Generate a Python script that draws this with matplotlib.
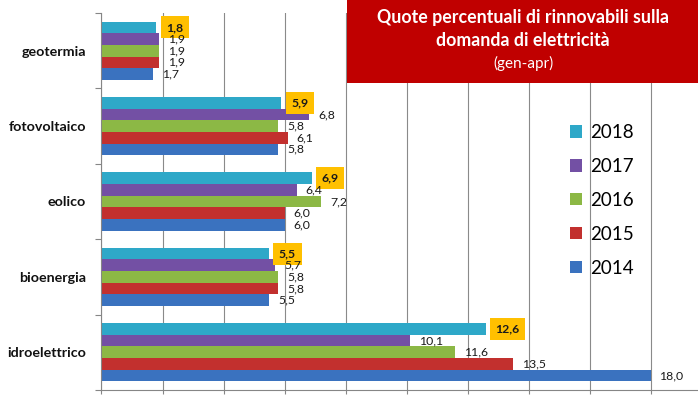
import matplotlib
matplotlib.use("Agg")
import matplotlib.pyplot as plt
from matplotlib.patches import Rectangle, Patch
import numpy as np

plt.rcParams['font.family'] = ['Lato', 'DejaVu Sans']

categories = ['geotermia', 'fotovoltaico', 'eolico', 'bioenergia', 'idroelettrico']
years = ['2018', '2017', '2016', '2015', '2014']
v2018 = [1.8, 5.9, 6.9, 5.5, 12.6]
v2017 = [1.9, 6.8, 6.4, 5.7, 10.1]
v2016 = [1.9, 5.8, 7.2, 5.8, 11.6]
v2015 = [1.9, 6.1, 6.0, 5.8, 13.5]
v2014 = [1.7, 5.8, 6.0, 5.5, 18.0]
series = [v2018, v2017, v2016, v2015, v2014]
colors = ['#2EA8C8', '#7350A4', '#8CB845', '#C2302E', '#3A72BF']
title_lines = ['Quote percentuali di rinnovabili sulla', 'domanda di elettricità']
subtitle = '(gen-apr)'

fig = plt.figure(figsize=(6.98, 3.99), dpi=100)
ax = fig.add_axes([101.5 / 698, 1 - 390 / 399, 1 - 101.5 / 698, (390 - 13) / 399])

h = 0.154
y = np.arange(len(categories))
for j, (vals, col) in enumerate(zip(series, colors)):
    pos = y + (j - 2) * h
    ax.barh(pos, vals, height=h, color=col, zorder=2)
    for p, v in zip(pos, vals):
        txt = f'{v:.1f}'.replace('.', ',')
        if j == 0:
            ax.annotate(txt, (v, p), xytext=(7, 0), textcoords='offset points',
                        ha='left', va='center', fontsize=8.8, fontweight='bold',
                        color='#1a1a1a',
                        bbox=dict(boxstyle='square,pad=0.45', fc='#FFC000', ec='none'),
                        zorder=4)
        else:
            ax.annotate(txt, (v, p), xytext=(6.5, 0), textcoords='offset points',
                        ha='left', va='center', fontsize=8.8, color='#1a1a1a', zorder=4)

ax.set_xlim(0, (698 - 101.5) / 30.5)
ax.set_ylim(len(categories) - 0.5, -0.5)
ax.set_xticks(np.arange(0, 20, 2))
ax.set_xticklabels([])
ax.tick_params(axis='x', length=3, width=0.8, color='#868686', direction='out')
ax.set_yticks(y)
ax.set_yticklabels(categories, fontsize=10.3, fontweight='bold', color='#111111')
ax.set_yticks(np.arange(-0.5, len(categories), 1), minor=True)
ax.tick_params(axis='y', which='major', length=0, pad=11)
ax.tick_params(axis='y', which='minor', length=4, width=0.8, color='#868686', direction='out')
ax.grid(axis='x', color='#8a8a8a', linewidth=0.8, zorder=1)
ax.set_axisbelow(True)
for s in ['top', 'right']:
    ax.spines[s].set_visible(False)
for s in ['left', 'bottom']:
    ax.spines[s].set_color('#868686')
    ax.spines[s].set_linewidth(0.8)

handles = [Patch(facecolor=c, edgecolor='none') for c in colors]
leg = fig.legend(handles, years, loc='upper left', bbox_to_anchor=(570 / 698, 1 - 124 / 399),
                 frameon=False, fontsize=13.5, handlelength=0.65, handleheight=0.65,
                 handletextpad=0.4, labelspacing=0.9, borderpad=0, borderaxespad=0)

fig.patches.append(Rectangle((347 / 698, 1 - 83 / 399), (698 - 347) / 698, 83 / 399,
                             transform=fig.transFigure, facecolor='#C00000', edgecolor='none',
                             zorder=5))
cx = 523 / 698
fig.text(cx, 1 - 18 / 399, title_lines[0], ha='center', va='center', color='white',
         fontsize=12.8, fontweight='bold', zorder=6)
fig.text(cx, 1 - 41 / 399, title_lines[1], ha='center', va='center', color='white',
         fontsize=12.8, fontweight='bold', zorder=6)
fig.text(cx, 1 - 63 / 399, subtitle, ha='center', va='center', color='white',
         fontsize=11, zorder=6)

fig.savefig('out.png', dpi=100)
